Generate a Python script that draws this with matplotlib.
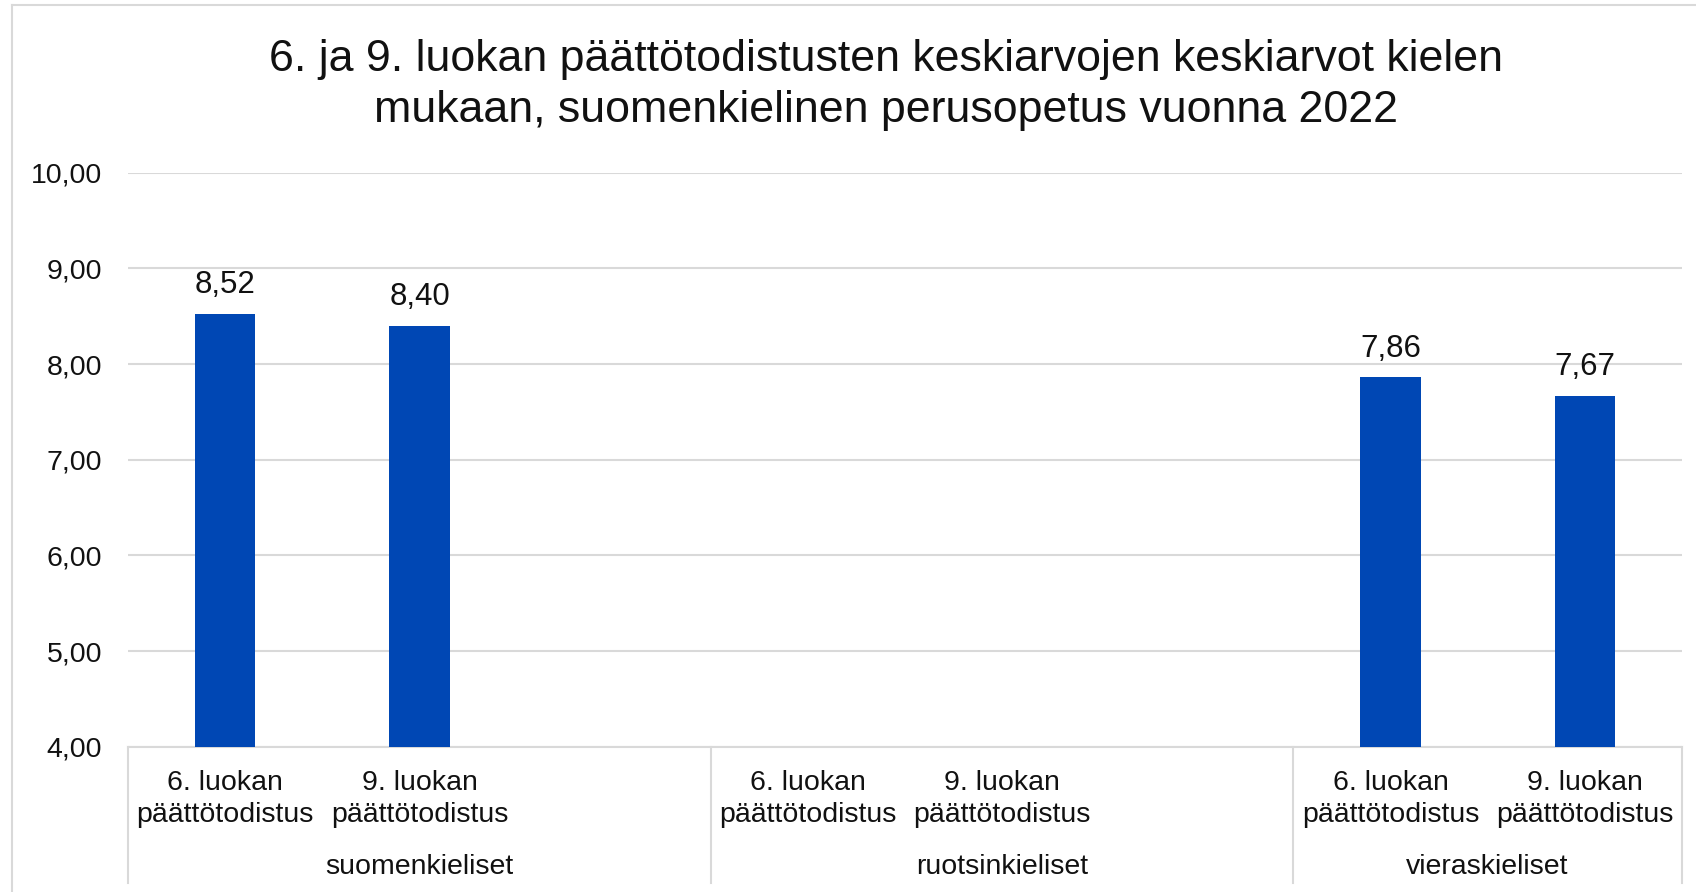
import numpy as np
import matplotlib
matplotlib.use("Agg")
import matplotlib.pyplot as plt
from matplotlib import transforms
from matplotlib.lines import Line2D

plt.rcParams['font.family'] = ['Liberation Sans', 'DejaVu Sans']

# data
groups = ['suomenkieliset', 'ruotsinkieliset', 'vieraskieliset']
group_sizes = [3, 3, 2]
cat_labels = ['6. luokan\npäättötodistus', '9. luokan\npäättötodistus', '',
              '6. luokan\npäättötodistus', '9. luokan\npäättötodistus', '',
              '6. luokan\npäättötodistus', '9. luokan\npäättötodistus']
values = [8.52, 8.40, np.nan, np.nan, np.nan, np.nan, 7.86, 7.67]
yticks = [4, 5, 6, 7, 8, 9, 10]

title = ('6. ja 9. luokan päättötodistusten keskiarvojen keskiarvot kielen\n'
         'mukaan, suomenkielinen perusopetus vuonna 2022')

W, H = 1696, 892
bar_color = '#0047B4'
grid_color = '#d9d9d9'
text_color = '#111111'

fig = plt.figure(figsize=(W / 100, H / 100), dpi=100)
ax = fig.add_axes([128.3 / W, 1 - 746.7 / H, (1681.7 - 128.3) / W, (746.7 - 172.7) / H])

x = np.arange(len(values))
vals = np.array(values)
ax.bar(x, np.nan_to_num(vals, nan=0) - 4, bottom=4, width=0.31, color=bar_color, zorder=3)

for xi, v in zip(x, vals):
    if not np.isnan(v):
        ax.annotate(f"{v:.2f}".replace('.', ','), (xi, v), xytext=(0, 10),
                    textcoords='offset points', ha='center', va='bottom',
                    fontsize=22.5, color=text_color, zorder=4)

ax.set_xlim(-0.5, len(values) - 0.5)
ax.set_ylim(4, 10)
ax.set_yticks(yticks)
ax.set_yticklabels([f"{t:.2f}".replace('.', ',') for t in yticks])
ax.set_xticks(x)
ax.set_xticklabels(cat_labels, linespacing=1.27)
ax.tick_params(axis='y', length=0, pad=19, labelsize=20.5, labelcolor=text_color)
ax.tick_params(axis='x', length=0, pad=17, labelsize=20.5, labelcolor=text_color)

ax.grid(axis='y', color=grid_color, linewidth=1.5, zorder=0)
for s in ['top', 'right', 'left']:
    ax.spines[s].set_visible(False)
ax.spines['bottom'].set_color(grid_color)
ax.spines['bottom'].set_linewidth(1.5)

# group separators and group labels
tr = transforms.blended_transform_factory(ax.transData, fig.transFigure)
edges = np.concatenate([[0], np.cumsum(group_sizes)]) - 0.5
for e in edges:
    ax.add_line(Line2D([e, e], [1 - 746.7 / H, 1 - 883 / H], transform=tr,
                       color=grid_color, linewidth=1.5, clip_on=False))
for g, a, b in zip(groups, edges[:-1], edges[1:]):
    ax.text((a + b) / 2, 1 - 867 / H, g, transform=tr, ha='center', va='center',
            fontsize=20.5, color=text_color)

# chart area frame (cropped)
fig.add_artist(Line2D([12 / W, 1], [1 - 5 / H, 1 - 5 / H], color=grid_color, linewidth=1.5))
fig.add_artist(Line2D([12 / W, 12 / W], [0, 1 - 5 / H], color=grid_color, linewidth=1.5))

fig.text(886 / W, 1 - 85 / H, title, ha='center', va='center', fontsize=32.2,
         color=text_color, linespacing=1.31)

fig.savefig('out.png', dpi=100)
